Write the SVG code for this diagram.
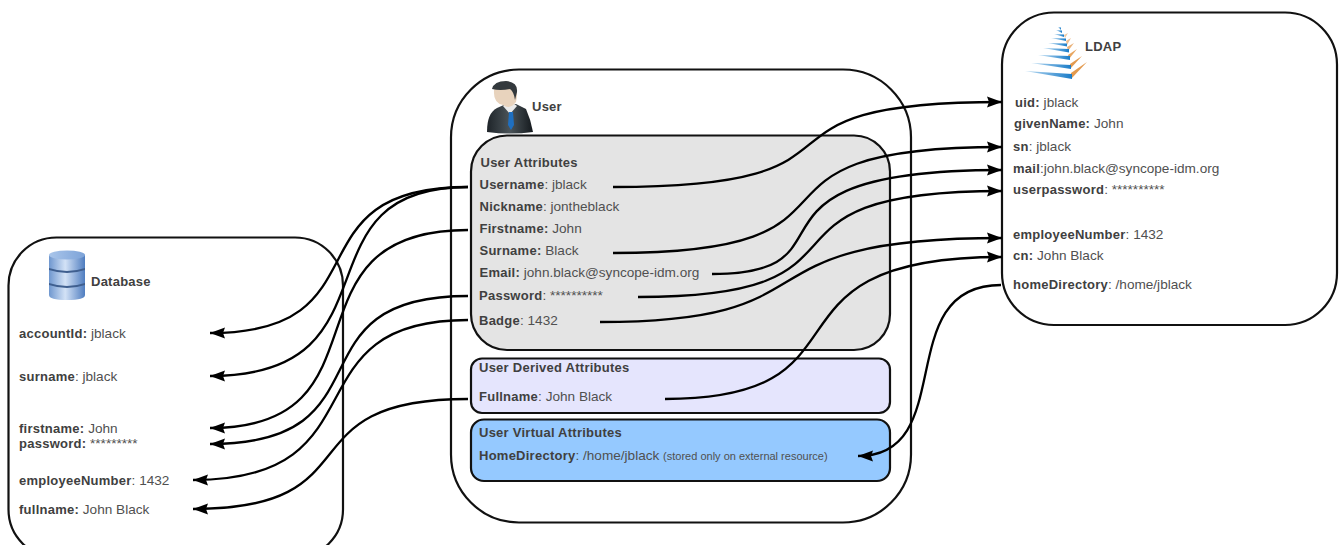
<svg xmlns="http://www.w3.org/2000/svg" width="1341" height="545" viewBox="0 0 1341 545">
<style>
text{font-family:"Liberation Sans",Arial,sans-serif;font-size:13.6px;fill:#505050}
.b{font-size:13px;font-weight:700;letter-spacing:.25px;fill:#404040}
.s{font-size:11px}
.box{stroke:#111;stroke-width:2.2;fill:#fff}
.c{fill:none;stroke:#000;stroke-width:2.3}
.a{marker-end:url(#arr)}
</style>
<defs>
<marker id="arr" markerUnits="userSpaceOnUse" markerWidth="16" markerHeight="12" refX="15" refY="6" orient="auto"><path d="M0,.5 L15,6 L0,11.500 L2,6 Z" fill="#000"/></marker>
<linearGradient id="db" x1="0" x2="1" y1="0" y2="0"><stop offset="0" stop-color="#6f97cf"/><stop offset=".45" stop-color="#d3e2f6"/><stop offset="1" stop-color="#4f7dc0"/></linearGradient>
<linearGradient id="dbtop" x1="0" x2="1" y1="0" y2="0"><stop offset="0" stop-color="#a9c5ea"/><stop offset="1" stop-color="#7da3d8"/></linearGradient>
<linearGradient id="suit" x1="0" x2="1" y1="0" y2="0"><stop offset="0" stop-color="#1e2429"/><stop offset=".5" stop-color="#4b5459"/><stop offset="1" stop-color="#14191d"/></linearGradient>
<linearGradient id="blu" x1="0" x2="1" y1="0" y2="0"><stop offset="0" stop-color="#bcdcf3"/><stop offset="1" stop-color="#1a7cc8"/></linearGradient>
</defs>

<g id="database">
<rect class="box" x="8.500" y="237.500" width="334.500" height="320" rx="48"/>
<g id="database-icon">
<path d="M49,255 V295 Q49,300 67,300 Q85,300 85,295 V255 Z" fill="url(#db)"/>
<ellipse cx="67" cy="255" rx="18" ry="4.500" fill="url(#dbtop)"/>
<path d="M49,268 Q67,274 85,268 V270 Q67,276 49,270 Z" fill="#3f5f8f"/>
<path d="M49,283 Q67,289 85,283 V285 Q67,291 49,285 Z" fill="#3f5f8f"/>
</g>
<text x="91" y="286" class="b">Database</text>
<text x="19" y="337.500"><tspan class="b">accountId:</tspan> jblack</text>
<text x="19" y="381"><tspan class="b">surname</tspan>: jblack</text>
<text x="19" y="433"><tspan class="b">firstname:</tspan> John</text>
<text x="19" y="448"><tspan class="b">password:</tspan> *********</text>
<text x="19" y="485"><tspan class="b">employeeNumber</tspan>: 1432</text>
<text x="19" y="513.500"><tspan class="b">fullname:</tspan> John Black</text>
</g>

<g id="user">
<rect class="box" x="451" y="69.500" width="460" height="453" rx="68"/>
<g id="user-icon">
<path d="M487,132 Q487,113 497,108 L506,104 H516 L526,109 Q531,120 533,132 Q510,135 487,132 Z" fill="url(#suit)"/>
<path d="M503,106 L510,114 L517,106 L513,103 H507 Z" fill="#e9e9e9"/>
<path d="M509,112 H513 L514,125 L511,130 L508,125 Z" fill="#1f6fc0"/>
<path d="M494,90 Q493,103 503,105 Q510,110 516,102 Q518,95 516,86 L496,84 Z" fill="#e8d3bd"/>
<path d="M492,89 Q494,81 506,81 Q518,82 517,92 L515,100 Q514,92 510,89 Q500,91 492,89 Z" fill="#33393d"/>
</g>
<text x="532" y="111" class="b">User</text>
</g>

<g id="user-attributes">
<rect class="box" x="471" y="135.500" width="419" height="214.500" rx="36" style="fill:#e4e4e4"/>
<text x="480.500" y="167" class="b">User Attributes</text>
<text x="479.500" y="189"><tspan class="b">Username</tspan>: jblack</text>
<text x="479.500" y="210.500"><tspan class="b">Nickname</tspan>: jontheblack</text>
<text x="479.500" y="233"><tspan class="b">Firstname:</tspan> John</text>
<text x="479.500" y="255"><tspan class="b">Surname:</tspan> Black</text>
<text x="479.500" y="277"><tspan class="b">Email:</tspan> john.black@syncope-idm.org</text>
<text x="479" y="300"><tspan class="b">Password</tspan>: **********</text>
<text x="479" y="325"><tspan class="b">Badge</tspan>: 1432</text>
</g>

<g id="user-derived-attributes">
<rect class="box" x="471" y="358.500" width="419" height="54.500" rx="11" style="fill:#e5e5fd"/>
<text x="479" y="372" class="b">User Derived Attributes</text>
<text x="479" y="401"><tspan class="b">Fullname</tspan>: John Black</text>
</g>

<g id="user-virtual-attributes">
<rect class="box" x="471" y="419.500" width="419" height="61.500" rx="13" style="fill:#95c9ff"/>
<text x="479" y="437" class="b">User Virtual Attributes</text>
<text x="479" y="460"><tspan class="b">HomeDirectory</tspan>: /home/jblack <tspan class="s">(stored only on external resource)</tspan></text>
</g>

<g id="ldap">
<rect class="box" x="1002" y="12.500" width="335" height="312.500" rx="52"/>
<g id="ldap-icon">
<path d="M1071,79 L1087,62 L1071,73 Z" fill="#e39a4f"/>
<path d="M1070,69 L1082,56 L1070,64 Z" fill="#e39a4f"/>
<path d="M1069,59 L1077,49 L1068,55 Z" fill="#e8a660"/>
<path d="M1068,51 L1074,43 L1067,47 Z" fill="#eab27a"/>
<path d="M1067,45 L1071,38 L1066,41 Z" fill="#eebd8f"/>
<path d="M1065,38 L1068,33 L1064,35 Z" fill="#f0c8a0"/>
<path d="M1025,71 L1072,74 V79 Z" fill="url(#blu)"/>
<path d="M1031,63 L1071,65 V69 Z" fill="url(#blu)"/>
<path d="M1038,55 L1070,56 V60 Z" fill="url(#blu)"/>
<path d="M1043,48 L1069,49 V52.500 Z" fill="url(#blu)"/>
<path d="M1048,43 L1067,43.500 V46.500 Z" fill="url(#blu)"/>
<path d="M1051,38 L1066,38.500 V41 Z" fill="url(#blu)"/>
<path d="M1054,34 L1064,34.500 V37 Z" fill="url(#blu)"/>
<path d="M1056,30 L1062,30.500 V33 Z" fill="url(#blu)"/>
<path d="M1058,27 L1061,27.500 V30 Z" fill="url(#blu)"/>
</g>
<text x="1085" y="51" class="b">LDAP</text>
<text x="1015" y="107"><tspan class="b">uid:</tspan> jblack</text>
<text x="1014" y="128"><tspan class="b">givenName:</tspan> John</text>
<text x="1013" y="151"><tspan class="b">sn</tspan>: jblack</text>
<text x="1013" y="173"><tspan class="b">mail</tspan>:john.black@syncope-idm.org</text>
<text x="1013" y="194"><tspan class="b">userpassword</tspan>: **********</text>
<text x="1013" y="239"><tspan class="b">employeeNumber</tspan>: 1432</text>
<text x="1013" y="260"><tspan class="b">cn:</tspan> John Black</text>
<text x="1013" y="289"><tspan class="b">homeDirectory</tspan>: /home/jblack</text>
</g>

<g id="connectors">
<path class="c a" d="M468,187 C285,187 390,333 210,333"/>
<path class="c a" d="M468,187 C290,187 406,376 210,376"/>
<path class="c a" d="M468,230 C275,230 397,428 210,428"/>
<path class="c a" d="M468,296 C285,296 395,444 210,444"/>
<path class="c a" d="M468,320 C285,320 387,480 193,480"/>
<path class="c a" d="M468,399 C280,399 379,509 193,509"/>
<path class="c a" d="M613,187 C900,187 720,102 1002,102"/>
<path class="c a" d="M613,253 C900,253 708,147 1002,147"/>
<path class="c a" d="M712,274 C867,274 717,170 1002,170"/>
<path class="c a" d="M638,297 C900,297 727,191 1002,191"/>
<path class="c a" d="M600,322 C847,322 725,238 1002,238"/>
<path class="c a" d="M665,399 C885,399 745,257 1002,257"/>
<path class="c a" d="M1001,285 C890,285 960,456 858,456"/>
</g>
</svg>
